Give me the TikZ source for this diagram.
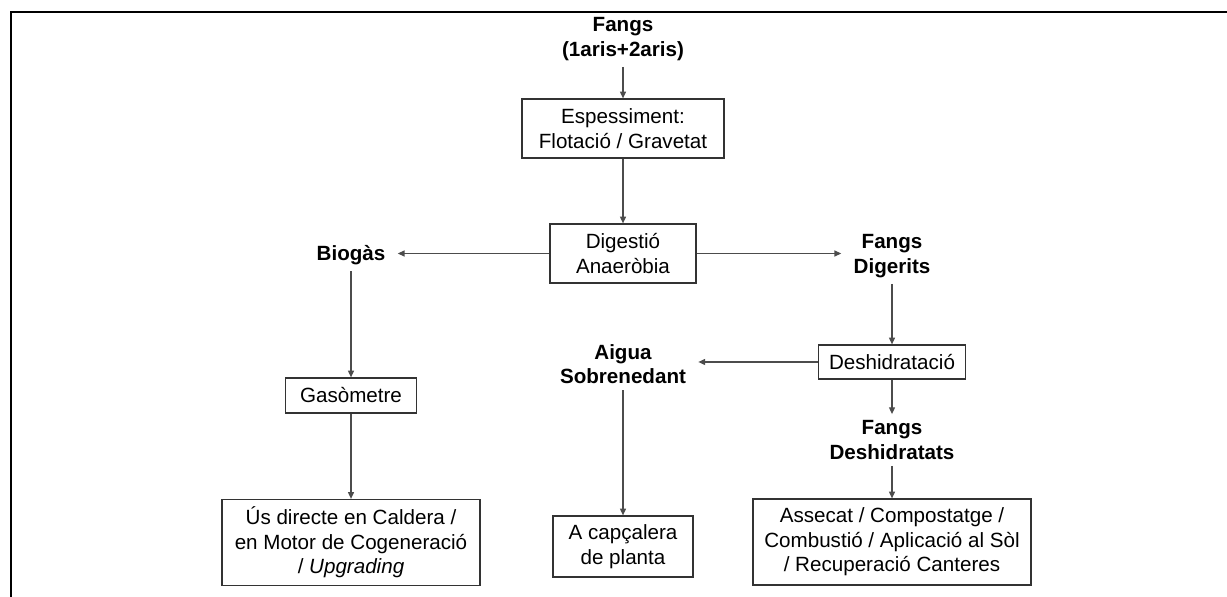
\documentclass[tikz,border=0pt]{standalone}
\usepackage{fontspec}
\setmainfont{Liberation Sans}
\usetikzlibrary{arrows.meta}

\begin{document}
\begin{tikzpicture}[x=0.5pt, y=-0.5pt, >={Triangle[length=3.4pt,width=3pt]},
  font=\fontsize{10.3}{12.3}\selectfont,
  every box/.style={draw=black!80, line width=0.6pt, align=center, inner sep=0pt},
  every tag/.style={font=\fontsize{10.3}{12.3}\selectfont\bfseries, align=center,
    inner xsep=6pt, inner ysep=3pt},
  link/.style={->, draw=black!70, line width=0.6pt}]

\useasboundingbox (0,0) rectangle (1227,597);
\draw [line width=1pt] (11,597) -- (11,12) -- (1227,12);

% process boxes
\node [every box, minimum width=101pt, minimum height=29.5pt] (thick) at (623,128.5)
  {Espessiment:\\Flotació / Gravetat};
\node [every box, minimum width=73pt, minimum height=29.5pt] (digest) at (623,253.5)
  {Digestió\\Anaeròbia};
\node [every box, minimum width=65.5pt, minimum height=17.5pt] (gaso) at (351,395.5)
  {Gasòmetre};
\node [every box, minimum width=73.5pt, minimum height=17pt] (dewater) at (892,362)
  {Deshidratació};
\node [every box, minimum width=129pt, minimum height=43pt] (use) at (351,542.5)
  {Ús directe en Caldera /\\en Motor de Cogeneració\\/ \textit{Upgrading}};
\node [every box, minimum width=70pt, minimum height=30.5pt] (head) at (623,546.5)
  {A capçalera\\de planta};
\node [every box, minimum width=139pt, minimum height=43pt] (final) at (892,542)
  {Assecat / Compostatge /\\Combustió / Aplicació al Sòl\\/ Recuperació Canteres};

% stream labels
\foreach \n/\x/\y/\t in {fangs/623/39/{Fangs\\(1aris+2aris)},
    biogas/351/255/{Biogàs}, digerits/892/256/{Fangs\\Digerits},
    aigua/623/364/{Aigua\\Sobrenedant}, dried/892/440/{Fangs\\Deshidratats}}
  \node [every tag] (\n) at (\x,\y) {\t};

% connectors
\draw [link] (fangs) -- (thick);
\draw [link] (thick) -- (digest);
\draw [link] (digest.west) -- (digest.west -| biogas.east);
\draw [link] (digest.east) -- (digest.east -| digerits.west);
\draw [link] (biogas) -- (gaso);
\draw [link] (gaso) -- (use);
\draw [link] (digerits) -- (dewater);
\draw [link] (dewater.west) -- (dewater.west -| aigua.east);
\draw [link] (dewater) -- (dried);
\draw [link] (aigua) -- (head);
\draw [link] (dried) -- (final);

\end{tikzpicture}
\end{document}
